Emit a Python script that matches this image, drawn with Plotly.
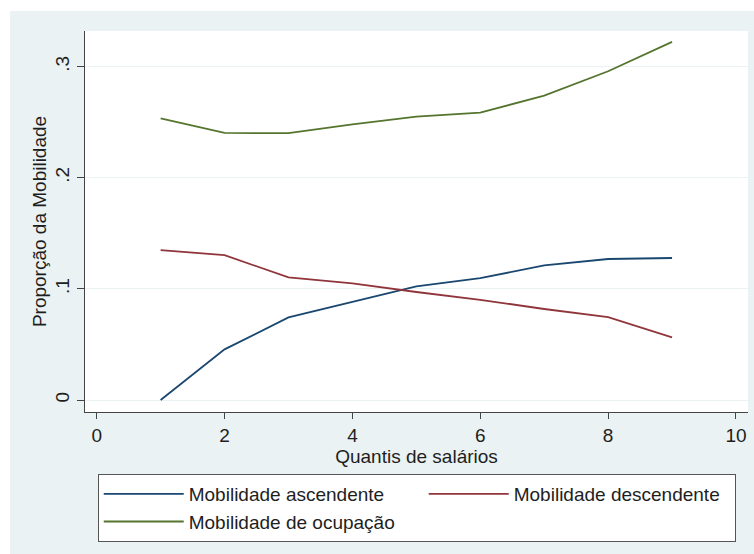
import plotly.graph_objects as go

# Data
quantis = [1, 2, 3, 4, 5, 6, 7, 8, 9]
ascendente = [0.0, 0.0456, 0.0743, 0.0886, 0.1023, 0.1097, 0.1211, 0.1269, 0.1278]
descendente = [0.1349, 0.1304, 0.1103, 0.1049, 0.0972, 0.0902, 0.0819, 0.0746, 0.0564]
ocupacao = [0.2535, 0.2404, 0.2401, 0.2480, 0.2550, 0.2586, 0.2739, 0.2959, 0.3223]

names = ["Mobilidade ascendente", "Mobilidade descendente", "Mobilidade de ocupação"]
colors = ["#1a476f", "#90353b", "#55752f"]
legend_widths = [230, 216, 230]

x_ticks = [0, 2, 4, 6, 8, 10]
y_ticks = [0, 0.1, 0.2, 0.3]
y_ticktext = ["0", ".1", ".2", ".3"]

FONT = "Liberation Sans, Arial, sans-serif"
FS = 19
AXIS = "#444444"
TXT = "#1e1e1e"

fig = go.Figure()
for vals, name, col, lw in zip([ascendente, descendente, ocupacao], names, colors, legend_widths):
    fig.add_trace(go.Scatter(
        x=quantis, y=vals, mode="lines", name=name,
        line=dict(color=col, width=1.8),
        legendwidth=lw,
    ))

fig.update_layout(
    width=754, height=554,
    margin=dict(l=85, r=6, t=31, b=142, pad=0),
    paper_bgcolor="#eaf2f3",
    plot_bgcolor="#ffffff",
    font=dict(family=FONT, size=FS, color=TXT),
    showlegend=True,
    legend=dict(
        orientation="h",
        x=0.0192, xanchor="left",
        y=-0.1626, yanchor="top",
        bgcolor="#ffffff",
        bordercolor="#555555", borderwidth=1,
        itemwidth=80,
        font=dict(family=FONT, size=FS, color=TXT),
        traceorder="normal",
    ),
    xaxis=dict(
        range=[-0.183, 10.188],
        tickvals=x_ticks,
        showgrid=False, zeroline=False,
        showline=True, linecolor=AXIS, linewidth=1,
        ticks="outside", ticklen=6, tickcolor=AXIS, tickwidth=1,
        tickfont=dict(family=FONT, size=FS, color=TXT),
        ticklabelstandoff=0,
        title=dict(text="Quantis de salários", font=dict(family=FONT, size=FS, color=TXT), standoff=0),
        automargin=False,
    ),
    yaxis=dict(
        range=[-0.0108, 0.3321],
        tickvals=y_ticks, ticktext=y_ticktext,
        tickangle=-90,
        showgrid=True, gridcolor="#eaf2f3", gridwidth=1,
        zeroline=False,
        showline=True, linecolor=AXIS, linewidth=1,
        ticks="outside", ticklen=7, tickcolor=AXIS, tickwidth=1,
        tickfont=dict(family=FONT, size=FS, color=TXT),
        title=dict(text="Proporção da Mobilidade", font=dict(family=FONT, size=FS, color=TXT), standoff=0),
        automargin=False,
    ),
    shapes=[
        dict(type="rect", xref="paper", yref="paper", x0=-0.2, x1=1.1, y0=1.0525, y1=1.3,
             fillcolor="#ffffff", line=dict(width=0), layer="below"),
        dict(type="rect", xref="paper", yref="paper", x0=-0.2, x1=-0.1131, y0=-0.5, y1=1.3,
             fillcolor="#ffffff", line=dict(width=0), layer="below"),
    ],
)

fig.write_html(
    "out.html",
    config={"displayModeBar": False},
    post_script="document.body.style.margin='0';document.body.style.padding='0';",
)
